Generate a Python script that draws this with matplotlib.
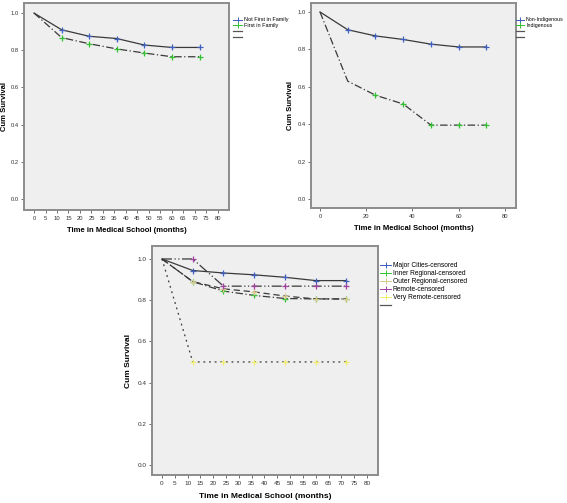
import matplotlib.pyplot as plt
from matplotlib.lines import Line2D

plt.rcParams['font.family'] = ['Liberation Sans', 'DejaVu Sans']

# survival estimates
months = [0, 12, 24, 36, 48, 60, 72]
not_first = [1.0, 0.91, 0.875, 0.863, 0.828, 0.815, 0.815]
first_fam = [1.0, 0.868, 0.835, 0.807, 0.785, 0.765, 0.765]

non_indig = [1.0, 0.905, 0.872, 0.853, 0.828, 0.813, 0.813]
indig = [1.0, 0.63, 0.555, 0.508, 0.395, 0.395, 0.395]

major = [1.0, 0.944, 0.932, 0.923, 0.911, 0.895, 0.895]
inner = [1.0, 0.89, 0.844, 0.823, 0.808, 0.806, 0.806]
outer = [1.0, 0.89, 0.855, 0.84, 0.82, 0.806, 0.806]
remote = [1.0, 1.0, 0.868, 0.868, 0.868, 0.868, 0.868]
very_remote = [1.0, 0.5, 0.5, 0.5, 0.5, 0.5, 0.5]

W, H = 567, 503
fig = plt.figure(figsize=(W / 100, H / 100), dpi=100)
fig.patch.set_facecolor('white')

LINE = '#3a3a3a'


def box(l, t, r, b):
    return [l / W, 1 - b / H, (r - l) / W, (b - t) / H]


def style(ax, xlim, ylim, xticks, fs):
    ax.set_facecolor('#efefef')
    for s in ax.spines.values():
        s.set_color('#8c8c8c')
        s.set_linewidth(1.4)
    ax.set_xlim(*xlim)
    ax.set_ylim(*ylim)
    ax.set_xticks(xticks)
    ax.set_yticks([0, 0.2, 0.4, 0.6, 0.8, 1.0])
    ax.set_yticklabels(['0.0', '0.2', '0.4', '0.6', '0.8', '1.0'])
    ax.tick_params(labelsize=fs, length=2.5, width=0.6, color='#555555',
                   labelcolor='#333333', pad=1.5)


def curve(ax, y, ls, col, marks=slice(1, None)):
    ax.plot(months, y, ls=ls, color=LINE, lw=0.9)
    ax.plot(months[marks], y[marks], ls='none', marker='+', ms=4, mew=0.9, color=col)


def legend(ax, labels, cols, nblank, x, y, fs):
    hs = [Line2D([], [], color=c, marker='+', ms=4, mew=0.7, lw=0.7) for c in cols]
    hs += [Line2D([], [], color='#555555', lw=0.9) for _ in range(nblank)]
    ax.legend(hs, labels + [''] * nblank, loc='upper left', bbox_to_anchor=(x, y),
              frameon=False, fontsize=fs, handlelength=1.6, handletextpad=0.3,
              labelspacing=0.15, borderaxespad=0, borderpad=0)


BLUE, GREEN = '#4060c0', '#33c033'

# top left
ax1 = fig.add_axes(box(24, 3, 229, 210))
style(ax1, (-4.35, 84.8), (-0.059, 1.054), range(0, 81, 5), 4.2)
curve(ax1, not_first, '-', BLUE)
curve(ax1, first_fam, (0, (6, 2, 1, 2)), GREEN)
ax1.set_ylabel('Cum Survival', fontsize=5.5, fontweight='bold', labelpad=1.5)
ax1.set_xlabel('Time in Medical School (months)', fontsize=5.5, fontweight='bold', labelpad=5)
legend(ax1, ['Not First in Family', 'First in Family'], [BLUE, GREEN], 2, 1.02, 0.93, 4.0)

# top right
ax2 = fig.add_axes(box(311, 3, 516, 208))
style(ax2, (-3.9, 84.8), (-0.048, 1.048), range(0, 81, 20), 4.2)
curve(ax2, non_indig, '-', BLUE)
curve(ax2, indig, (0, (6, 2, 1, 2)), GREEN, slice(2, None))
ax2.set_ylabel('Cum Survival', fontsize=5.5, fontweight='bold', labelpad=2)
ax2.set_xlabel('Time in Medical School (months)', fontsize=5.5, fontweight='bold', labelpad=5)
legend(ax2, ['Non-Indigenous', 'Indigenous'], [BLUE, GREEN], 2, 1.0, 0.93, 3.8)

# bottom
ax3 = fig.add_axes(box(152, 246, 378, 475))
style(ax3, (-3.9, 84.3), (-0.049, 1.063), range(0, 81, 5), 4.6)
curve(ax3, major, '-', BLUE)
curve(ax3, inner, (0, (6, 2, 1, 2)), GREEN)
curve(ax3, outer, (0, (5, 3)), '#d6c98a')
curve(ax3, remote, (0, (8, 2, 1, 2, 1, 2)), '#a040a0')
curve(ax3, very_remote, (0, (1.5, 3)), '#f0ec70')
ax3.set_ylabel('Cum Survival', fontsize=6, fontweight='bold', labelpad=4)
ax3.set_xlabel('Time in Medical School (months)', fontsize=6, fontweight='bold', labelpad=5)
legend(ax3, ['Major Cities-censored', 'Inner Regional-censored', 'Outer Regional-censored',
             'Remote-censored', 'Very Remote-censored'],
       [BLUE, GREEN, '#d6c98a', '#a040a0', '#f0ec70'], 1, 1.01, 0.93, 4.8)

fig.savefig('out.png', dpi=100)
